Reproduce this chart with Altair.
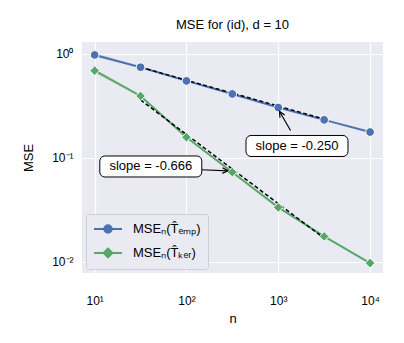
import altair as alt
import pandas as pd
import math

# ---------------- data ----------------
n_vals = [10, 31.6, 100, 316, 1000, 3162, 10000]
mse_emp = [0.978, 0.745, 0.55, 0.412, 0.305, 0.232, 0.177]
mse_ker = [0.69, 0.394, 0.158, 0.0727, 0.0333, 0.0175, 0.0097]
emp_lo = [0.94, 0.735, 0.545, 0.409, 0.303, 0.231, 0.176]
emp_hi = [1.02, 0.755, 0.555, 0.415, 0.307, 0.233, 0.178]
ker_lo = [0.655, 0.385, 0.156, 0.0720, 0.0330, 0.0174, 0.00965]
ker_hi = [0.725, 0.403, 0.160, 0.0734, 0.0336, 0.0176, 0.00975]

fit_n = [31.6, 3162]
fit_emp = [0.745, 0.236]
fit_ker = [0.361, 0.0168]

series_names = ["MSEₙ(T̂ₑₘₚ)", "MSEₙ(T̂ₖₑᵣ)"]
series_colors = ["#4C72B0", "#55A868"]

ann_text = ["slope = -0.250", "slope = -0.666"]
ann_n = [1600, 40.9]
ann_y = [0.130, 0.0825]
arrow_tail_n = [1361, 145.5]
arrow_tail_y = [0.183, 0.0767]
arrow_head_n = [1033, 283]
arrow_head_y = [0.279, 0.075]
arrow_angle = [330, 92]

x_ticks = [10, 100, 1000, 10000]
x_tick_labels = ["10¹", "10²", "10³", "10⁴"]
y_ticks = [0.01, 0.1, 1]
y_tick_labels = ["10⁻²", "10⁻¹", "10⁰"]

FONT = "Liberation Sans"

# ---------------- tables ----------------
rows = []
for i, n in enumerate(n_vals):
    rows.append(dict(n=n, mse=mse_emp[i], lo=emp_lo[i], hi=emp_hi[i], series=series_names[0]))
    rows.append(dict(n=n, mse=mse_ker[i], lo=ker_lo[i], hi=ker_hi[i], series=series_names[1]))
df = pd.DataFrame(rows)

fit_rows = []
for i, n in enumerate(fit_n):
    fit_rows.append(dict(n=n, mse=fit_emp[i], series="emp"))
    fit_rows.append(dict(n=n, mse=fit_ker[i], series="ker"))
fit_df = pd.DataFrame(fit_rows)

ann_df = pd.DataFrame(dict(text=ann_text, n=ann_n, y=ann_y,
                           tn=arrow_tail_n, ty=arrow_tail_y,
                           hn=arrow_head_n, hy=arrow_head_y, angle=arrow_angle))

def label_expr(vals, labels):
    expr = "''"
    for v, l in zip(vals, labels):
        expr = f"abs(log(datum.value)/log(10) - ({math.log10(v)})) < 0.01 ? '{l}' : " + expr
    return expr

xscale = alt.Scale(type="log", domain=[7.28, 13836], nice=False)
yscale = alt.Scale(type="log", domain=[0.00778, 1.303], nice=False)

x_axis = alt.Axis(values=x_ticks, labelExpr=label_expr(x_ticks, x_tick_labels), title="n",
                  grid=True, ticks=False, tickSize=0, domain=False, labelPadding=22,
                  labelFontSize=12, titleFontSize=13, titleFontWeight="normal",
                  titleY=45, titleBaseline="middle", labelFlush=False)
y_axis = alt.Axis(values=y_ticks, labelExpr=label_expr(y_ticks, y_tick_labels), title="MSE",
                  grid=True, ticks=False, tickSize=0, domain=False, labelPadding=9,
                  labelFontSize=12, titleFontSize=13, titleFontWeight="normal",
                  titleX=-54, titleY=115.5, titleBaseline="middle")

X = alt.X("n:Q", scale=xscale, axis=x_axis)
Y = alt.Y("mse:Q", scale=yscale, axis=y_axis)
cscale = alt.Scale(domain=series_names, range=series_colors)
C = alt.Color("series:N", scale=cscale, legend=None)

base = alt.Chart(df)

# legend-carrying layer (drawn first, tiny marks hidden under the real ones)
legend_paths = [
    "M-1,0H0.45M1.55,0H3M1.55,0A0.55,0.55 0 1,1 0.45,0A0.55,0.55 0 1,1 1.55,0Z",
    "M-1,0H0.35M1.65,0H3M1,-0.65L1.65,0L1,0.65L0.35,0Z",
]
leg = alt.Legend(title=None, orient="bottom-left", offset=4, padding=7,
                 fillColor="#EAEAF2", strokeColor="#cfcfd8", cornerRadius=3,
                 labelFontSize=13, labelFont=FONT, symbolSize=196, symbolStrokeWidth=1.8,
                 symbolOpacity=1, labelOffset=24, rowPadding=7)
legend_layer = base.mark_point(filled=True, size=1, strokeWidth=0.1, opacity=1).encode(
    x=X, y=Y,
    shape=alt.Shape("series:N", scale=alt.Scale(domain=series_names, range=legend_paths), legend=leg),
    fill=alt.Fill("series:N", scale=alt.Scale(domain=series_names, range=series_colors), legend=leg),
    stroke=alt.Stroke("series:N", scale=alt.Scale(domain=series_names, range=series_colors), legend=leg),
)

band = base.mark_area(opacity=0.25).encode(
    x=X, y=alt.Y("lo:Q", scale=yscale), y2="hi:Q", color=C)

lines = base.mark_line(strokeWidth=2).encode(x=X, y=Y, color=C, detail="series:N")

fits = alt.Chart(fit_df).mark_line(color="black", strokeDash=[4, 2.5], strokeWidth=1.5).encode(
    x=alt.X("n:Q", scale=xscale), y=alt.Y("mse:Q", scale=yscale), detail="series:N")

pts_emp = base.transform_filter(alt.datum.series == series_names[0]).mark_point(
    shape="circle", filled=True, size=75, stroke="white", strokeWidth=1, opacity=1
).encode(x=X, y=Y, color=C)
pts_ker = base.transform_filter(alt.datum.series == series_names[1]).mark_point(
    shape="diamond", filled=True, size=95, stroke="white", strokeWidth=1, opacity=1
).encode(x=X, y=Y, color=C)

ann = alt.Chart(ann_df)
arrows = ann.mark_rule(color="black", strokeWidth=1.2).encode(
    x=alt.X("tn:Q", scale=xscale), y=alt.Y("ty:Q", scale=yscale),
    x2="hn:Q", y2="hy:Q")
heads = ann.mark_point(shape="M-0.55,1.1L0,0L0.55,1.1", filled=False, size=100,
                       color="black", strokeWidth=1.2, opacity=1).encode(
    x=alt.X("hn:Q", scale=xscale), y=alt.Y("hy:Q", scale=yscale), angle=alt.Angle("angle:Q", scale=None))
boxes = ann.mark_rect(width=102, height=21, cornerRadius=5, fill="white",
                      stroke="black", strokeWidth=1).encode(
    x=alt.X("n:Q", scale=xscale), y=alt.Y("y:Q", scale=yscale))
texts = ann.mark_text(fontSize=13, font=FONT, color="black").encode(
    x=alt.X("n:Q", scale=xscale), y=alt.Y("y:Q", scale=yscale), text="text:N")

chart = alt.layer(legend_layer, band, lines, fits, pts_emp, pts_ker, arrows, heads, boxes, texts).properties(
    width=301, height=231,
    title=alt.Title("MSE for (id), d = 10", fontSize=13, font=FONT, fontWeight="normal", offset=10),
    autosize=alt.AutoSizeParams(type="none"),
    padding={"left": 74, "top": 34, "right": 13, "bottom": 62},
    background="white",
).configure_view(fill="#EAEAF2", stroke=None).configure_axis(
    gridColor="white", gridWidth=1.2, labelFont=FONT, titleFont=FONT, labelColor="black", titleColor="black"
)

chart.save("out.html", embed_options={"renderer": "svg", "actions": False})
